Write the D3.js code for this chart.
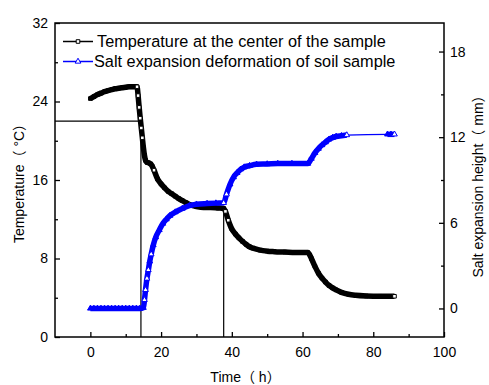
<!DOCTYPE html>
<html>
<head>
<meta charset="utf-8">
<script src="https://cdn.jsdelivr.net/npm/d3@7"></script>
<style>
  body { margin: 0; background: #fff; }
  text { font-family: "Liberation Sans", Arial, "Noto Sans CJK SC", sans-serif; }
</style>
</head>
<body>
<script>
// temperature at the sample centre (time in h, temperature in C)
var tempTime = [0, 1, 2, 3, 4, 5, 6, 7, 8, 9, 10, 11, 12, 13.2, 13.5, 13.8, 14.1, 14.4, 14.7, 15.0, 15.3, 15.6, 16, 16.5, 17, 17.5,
  18, 19, 20, 21, 22, 23, 24, 25, 26, 27, 28, 30, 32, 34, 36, 37.7, 38.2, 39, 40, 41, 42, 43, 44, 45, 46, 48, 50, 52, 55, 58, 61.5,
  62.5, 63.5, 64.5, 65.5, 66.5, 67.5, 68.5, 69.5, 71, 73, 75, 78, 82, 86];
var tempValue = [24.3, 24.5, 24.7, 24.85, 25.0, 25.1, 25.2, 25.3, 25.35, 25.4, 25.45, 25.5, 25.5, 25.5, 24.6, 23.4, 22.3, 21.3, 20.3, 19.3, 18.5, 18.0, 17.8, 17.75, 17.65, 17.4,
  17.0, 16.1, 15.6, 15.2, 14.85, 14.6, 14.35, 14.1, 13.9, 13.7, 13.5, 13.3, 13.2, 13.2, 13.15, 13.1, 12.8, 11.9, 11.0, 10.5, 10.1, 9.75, 9.45, 9.2, 9.05, 8.85, 8.75, 8.7, 8.65, 8.6, 8.6,
  8.0, 7.2, 6.5, 6.0, 5.6, 5.25, 5.0, 4.8, 4.55, 4.35, 4.25, 4.18, 4.15, 4.15];

// salt expansion height (time in h, height in mm)
var saltTime = [0, 1, 2, 3, 4, 5, 6, 7, 8, 9, 10, 11, 12, 13, 14, 15, 15.3, 15.6, 16.0, 16.4, 16.8, 17.2, 17.8, 18.5, 19.5, 20.5, 21.5, 22.5, 24, 26, 28, 30, 33, 35.5, 37.7,
  38.5, 39.5, 40.5, 41.5, 42.5, 43.5, 45, 47, 50, 53, 57, 61.5,
  62.5, 63.5, 64.5, 65.5, 66.5, 67.5, 68.5, 69.5, 71, 72.5, 84, 85, 86];
var saltValue = [0, 0, 0, 0, 0, 0, 0, 0, 0, 0, 0, 0, 0, 0, 0, 0.05, 0.6, 1.3, 2.1, 2.7, 3.3, 3.8, 4.45, 5.0, 5.5, 5.95, 6.25, 6.5, 6.75, 7.0, 7.2, 7.3, 7.35, 7.38, 7.4,
  8.0, 8.7, 9.2, 9.5, 9.75, 9.9, 10.0, 10.1, 10.12, 10.15, 10.15, 10.15,
  10.5, 10.9, 11.2, 11.45, 11.65, 11.85, 11.97, 12.05, 12.1, 12.15, 12.2, 12.2, 12.2];

// guide lines drawn on the plot
var hGuide = {t: 14.3, temp: 22};
var vGuides = [14.3, 37.7];

var xTicks = [0, 20, 40, 60, 80, 100];
var xMinor = [10, 30, 50, 70, 90];
var yLeftTicks = [0, 8, 16, 24, 32];
var yLeftMinor = [4, 12, 20, 28];
var yRightTicks = [0, 6, 12, 18];
var yRightMinor = [3, 9, 15];

var W = 489, H = 385;
var m = {left: 55, top: 23, right: 45, bottom: 48};
var pw = W - m.left - m.right, ph = H - m.top - m.bottom;

var svg = d3.select("body").append("svg").attr("width", W).attr("height", H);
var g = svg.append("g").attr("transform", `translate(${m.left},${m.top})`);

var x = d3.scaleLinear().domain([-10, 100]).range([0, pw]);
var yL = d3.scaleLinear().domain([0, 32]).range([ph, 0]);
var yR = d3.scaleLinear().domain([-2, 20]).range([ph, 0]);

var temp = tempTime.map((t, i) => ({t: t, v: tempValue[i]}));
var salt = saltTime.map((t, i) => ({t: t, v: saltValue[i]}));

function addAxis(axis, tr) {
  var a = g.append("g").attr("transform", tr).call(axis);
  a.select(".domain").remove();
  a.selectAll("line").attr("stroke", "#000").attr("stroke-width", 1.3);
  a.selectAll("text").attr("font-size", 14).attr("fill", "#000");
  return a;
}
addAxis(d3.axisBottom(x).tickValues(xTicks).tickSizeInner(-5).tickSizeOuter(0).tickPadding(10), `translate(0,${ph})`);
addAxis(d3.axisBottom(x).tickValues(xMinor).tickSizeInner(-3).tickSizeOuter(0).tickFormat(""), `translate(0,${ph})`);
addAxis(d3.axisLeft(yL).tickValues(yLeftTicks).tickSizeInner(-5).tickSizeOuter(0).tickPadding(7), "translate(0,0)");
addAxis(d3.axisLeft(yL).tickValues(yLeftMinor).tickSizeInner(-3).tickSizeOuter(0).tickFormat(""), "translate(0,0)");
addAxis(d3.axisRight(yR).tickValues(yRightTicks).tickSizeInner(-5).tickSizeOuter(0).tickPadding(6), `translate(${pw},0)`);
addAxis(d3.axisRight(yR).tickValues(yRightMinor).tickSizeInner(-3).tickSizeOuter(0).tickFormat(""), `translate(${pw},0)`);

// guide lines
g.append("line")
  .attr("x1", 0).attr("x2", x(hGuide.t))
  .attr("y1", yL(hGuide.temp)).attr("y2", yL(hGuide.temp))
  .attr("stroke", "#000").attr("stroke-width", 1.2);
g.append("line")
  .attr("x1", x(vGuides[0])).attr("x2", x(vGuides[0]))
  .attr("y1", yL(hGuide.temp)).attr("y2", ph)
  .attr("stroke", "#000").attr("stroke-width", 1.2);
var tAt = d3.scaleLinear().domain(tempTime).range(tempValue);
g.append("line")
  .attr("x1", x(vGuides[1])).attr("x2", x(vGuides[1]))
  .attr("y1", yL(tAt(vGuides[1]))).attr("y2", ph)
  .attr("stroke", "#000").attr("stroke-width", 1.2);

// split a series where sampling has a big gap, the dense runs look like a thick band of markers
function runs(data) {
  var out = [[data[0]]];
  for (var i = 1; i < data.length; i++) {
    if (data[i].t - data[i - 1].t > 5) out.push([]);
    out[out.length - 1].push(data[i]);
  }
  return out;
}

function drawSeries(data, yScale, color, symbol, size) {
  var line = d3.line().x(d => x(d.t)).y(d => yScale(d.v)).curve(d3.curveMonotoneX);
  runs(data).forEach(function(r) {
    if (r.length < 2) return;
    g.append("path").datum(r).attr("d", line)
      .attr("fill", "none").attr("stroke", color).attr("stroke-width", 5.5)
      .attr("stroke-linejoin", "round");
  });
  g.append("path").datum(data).attr("d", line)
    .attr("fill", "none").attr("stroke", color).attr("stroke-width", 1.2);
  // hollow centre stays visible only on steep parts, at sampling gaps and at the end
  g.selectAll(null).data(data).enter().append("path")
    .attr("d", d3.symbol().type(symbol).size(size))
    .attr("transform", d => `translate(${x(d.t)},${yScale(d.v)})`)
    .attr("fill", function(d, i) {
      if (i == data.length - 1) return "#fff";
      var n = data[i + 1];
      if (n.t - d.t > 5) return "#fff";
      return Math.abs(yScale(n.v) - yScale(d.v)) > 8 ? "#fff" : color;
    })
    .attr("stroke", color).attr("stroke-width", 1);
}
drawSeries(temp, yL, "#000", d3.symbolSquare, 13);
drawSeries(salt, yR, "#0000ff", d3.symbolTriangle, 14);

// frame
g.append("rect").attr("width", pw).attr("height", ph)
  .attr("fill", "none").attr("stroke", "#000").attr("stroke-width", 1.5);

// legend
var legend = [
  {label: "Temperature at the center of the sample", color: "#000", symbol: d3.symbolSquare, size: 13, y: 41.5, tx: 97},
  {label: "Salt expansion deformation of soil sample", color: "#0000ff", symbol: d3.symbolTriangle, size: 14, y: 61.5, tx: 94}
];
legend.forEach(function(l) {
  svg.append("line").attr("x1", 63).attr("x2", 93).attr("y1", l.y).attr("y2", l.y)
    .attr("stroke", l.color).attr("stroke-width", 1.5);
  svg.append("path").attr("d", d3.symbol().type(l.symbol).size(l.size))
    .attr("transform", `translate(78,${l.y})`)
    .attr("fill", "#fff").attr("stroke", l.color).attr("stroke-width", 1);
  svg.append("text").attr("x", l.tx).attr("y", l.y + 5.5).attr("font-size", 16.3).text(l.label);
});

// axis titles
svg.append("text").attr("x", m.left + pw / 2 - 4).attr("y", 382)
  .attr("text-anchor", "middle").attr("font-size", 14).text("Time（ h）");
svg.append("text").attr("transform", `translate(24,${m.top + ph / 2}) rotate(-90)`)
  .attr("text-anchor", "middle").attr("font-size", 14).text("Temperature（ °C）");
svg.append("text").attr("transform", `translate(483,${m.top + ph / 2 + 3}) rotate(-90)`)
  .attr("text-anchor", "middle").attr("font-size", 14).text("Salt expansion height（ mm）");
</script>
</body>
</html>
